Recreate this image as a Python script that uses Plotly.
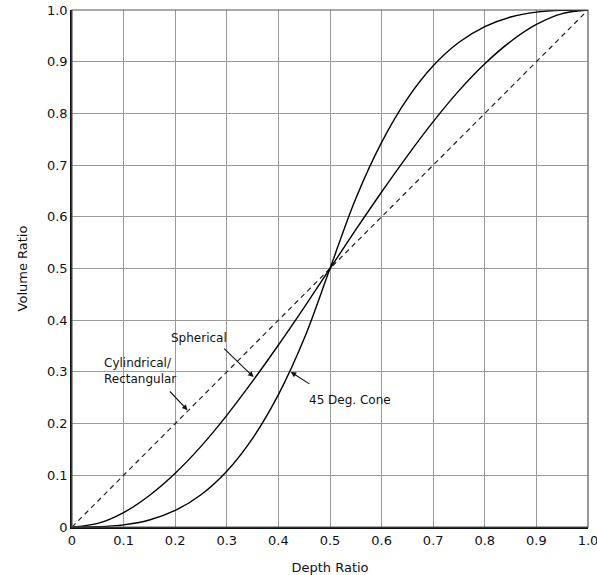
import plotly.graph_objects as go

depth = [0, 0.05, 0.1, 0.15, 0.2, 0.25, 0.3, 0.35, 0.4, 0.45, 0.5,
         0.55, 0.6, 0.65, 0.7, 0.75, 0.8, 0.85, 0.9, 0.95, 1.0]
spherical = [0, 0.007, 0.028, 0.061, 0.104, 0.156, 0.216, 0.282, 0.352, 0.425, 0.5,
             0.575, 0.648, 0.718, 0.784, 0.844, 0.896, 0.939, 0.972, 0.993, 1.0]
cone45 = [0, 0.0005, 0.004, 0.0135, 0.032, 0.0625, 0.108, 0.1715, 0.256, 0.3645, 0.5,
          0.6355, 0.744, 0.8285, 0.892, 0.9375, 0.968, 0.9865, 0.996, 0.9995, 1.0]
cyl_x = [0, 1.0]
cyl_y = [0, 1.0]

ticks = [0, 0.1, 0.2, 0.3, 0.4, 0.5, 0.6, 0.7, 0.8, 0.9, 1.0]
tick_text = ["0", "0.1", "0.2", "0.3", "0.4", "0.5", "0.6", "0.7", "0.8", "0.9", "1.0"]

FONT = "DejaVu Sans"
FS = 13

fig = go.Figure()
fig.add_trace(go.Scatter(x=cyl_x, y=cyl_y, mode="lines",
                         line=dict(color="#222", width=1.2, dash="5px,4px"),
                         showlegend=False, hoverinfo="skip"))
fig.add_trace(go.Scatter(x=depth, y=spherical, mode="lines",
                         line=dict(color="#000", width=1.4, shape="spline"),
                         showlegend=False))
fig.add_trace(go.Scatter(x=depth, y=cone45, mode="lines",
                         line=dict(color="#000", width=1.4, shape="spline"),
                         showlegend=False))

axis_common = dict(
    range=[0, 1], tickvals=ticks, ticktext=tick_text,
    showgrid=True, gridcolor="#999", gridwidth=1,
    zeroline=False, showline=True, linecolor="#111", linewidth=1.5,
    ticks="", tickfont=dict(family=FONT, size=FS, color="#111"),
    ticklabeloverflow="allow", automargin=False,
    fixedrange=True,
)

fig.update_xaxes(**axis_common, ticklabelstandoff=1,
                 title=dict(text="Depth Ratio", font=dict(family=FONT, size=FS, color="#111"),
                            standoff=16))
fig.update_yaxes(**axis_common,
                 title=dict(text="Volume Ratio", font=dict(family=FONT, size=FS, color="#111"),
                            standoff=16))

# frame on top/right
fig.add_shape(type="rect", xref="paper", yref="paper", x0=0, y0=0, x1=1, y1=1,
              line=dict(color="#555", width=1.2), layer="above")

labels = [
    dict(x=0.247, y=0.366, text="Spherical", xanchor="center"),
    dict(x=0.058, y=0.302, text="Cylindrical/<br>Rectangular", xanchor="left"),
    dict(x=0.455, y=0.246, text="45 Deg. Cone", xanchor="left"),
]
for lb in labels:
    fig.add_annotation(x=lb["x"], y=lb["y"], text=lb["text"], xanchor=lb["xanchor"],
                       yanchor="middle", align="left", showarrow=False,
                       font=dict(family=FONT, size=12, color="#111"))

arrows = [
    ((0.352, 0.290), (0.292, 0.348)),
    ((0.224, 0.226), (0.187, 0.265)),
    ((0.424, 0.300), (0.463, 0.275)),
]
for (hx, hy), (tx, ty) in arrows:
    fig.add_annotation(x=hx, y=hy, ax=tx, ay=ty, axref="x", ayref="y",
                       text="", showarrow=True, arrowhead=2, arrowsize=1,
                       arrowwidth=1.1, arrowcolor="#111")

fig.update_layout(
    width=597, height=575,
    margin=dict(l=72, r=9, t=10, b=48),
    paper_bgcolor="white", plot_bgcolor="white",
    font=dict(family=FONT, size=FS, color="#111"),
)

fig.write_html("out.html")
